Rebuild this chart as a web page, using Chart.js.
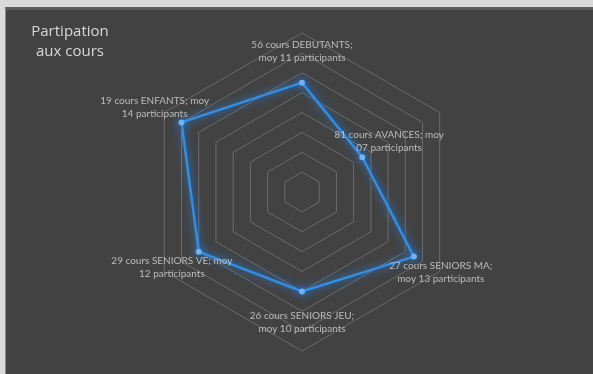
<!DOCTYPE html>
<html>
<head>
<meta charset="utf-8">
<script src="https://cdn.jsdelivr.net/npm/chart.js@4.4.1/dist/chart.umd.min.js"></script>
<style>
  html, body { margin: 0; padding: 0; }
  body { width: 593px; height: 374px; background: #d9d9d9; overflow: hidden; position: relative; }
  #panel {
    position: absolute; left: 5px; top: 7px; right: 0; bottom: 0;
    background: #424242;
    border-top: 3px solid #5c5c5c;
    border-left: 1px solid #8a8a8a;
  }
  #wrap { position: absolute; left: 0; top: 0; width: 593px; height: 374px; }
</style>
</head>
<body>
<div id="panel"></div>
<div id="wrap"><canvas id="radarChart" width="593" height="374"></canvas></div>
<script>
// Chart data
const categories = ['DEBUTANTS', 'AVANCES', 'SENIORS MA', 'SENIORS JEU', 'SENIORS VE', 'ENFANTS'];
const nbCours = ['56', '81', '27', '26', '29', '19'];
const moyParticipants = [11, 7, 13, 10, 12, 14];
// how each label is split on two lines (like Excel wraps them)
const labelLines = [
    ['56 cours DEBUTANTS;', 'moy 11 participants'],
    ['81 cours AVANCES; moy', '07 participants'],
    ['27 cours SENIORS MA;', 'moy 13 participants'],
    ['26 cours SENIORS JEU;', 'moy 10 participants'],
    ['29 cours SENIORS VE; moy', '12 participants'],
    ['19 cours ENFANTS; moy', '14 participants']
];

// Glow behind the line and points
const glowPlugin = {
    id: 'glow',
    beforeDatasetsDraw(chart) {
        chart.ctx.save();
        chart.ctx.shadowColor = 'rgba(40, 140, 255, 0.95)';
        chart.ctx.shadowBlur = 8;
    },
    afterDatasetsDraw(chart) {
        chart.ctx.restore();
    }
};

// Data labels next to each point + title
const labelsPlugin = {
    id: 'pointTexts',
    afterDraw(chart) {
        const ctx = chart.ctx;
        const scale = chart.scales.r;
        const meta = chart.getDatasetMeta(0);
        ctx.save();
        ctx.font = '10px Lato';
        ctx.fillStyle = '#bcbcbc';
        ctx.textAlign = 'center';
        ctx.textBaseline = 'middle';
        meta.data.forEach((pt, i) => {
            const dx = pt.x - scale.xCenter;
            const dy = pt.y - scale.yCenter;
            const d = Math.sqrt(dx * dx + dy * dy);
            const cx = pt.x + dx / d * 31;
            const cy = pt.y + dy / d * 31;
            ctx.fillText(labelLines[i][0], cx, cy - 6.5);
            ctx.fillText(labelLines[i][1], cx, cy + 6.5);
        });
        // title
        ctx.font = '15px "Open Sans"';
        ctx.fillStyle = '#d9d9d9';
        ctx.fillText('Partipation', 70, 32);
        ctx.fillText('aux cours', 70, 52);
        ctx.restore();
    }
};

const ctx = document.getElementById('radarChart').getContext('2d');
const radarChart = new Chart(ctx, {
    type: 'radar',
    data: {
        labels: categories,
        datasets: [{
            data: moyParticipants,
            borderColor: '#2f8fe8',
            borderWidth: 2.5,
            backgroundColor: 'transparent',
            fill: false,
            pointRadius: 3,
            pointBackgroundColor: '#6db3f5',
            pointBorderColor: '#6db3f5',
            pointBorderWidth: 0,
            tension: 0
        }]
    },
    options: {
        responsive: false,
        animation: false,
        layout: {
            padding: { left: 143, right: 131, top: 33, bottom: 22 }
        },
        scales: {
            r: {
                min: 0,
                max: 16,
                ticks: { display: false, stepSize: 2 },
                pointLabels: { display: false },
                angleLines: { display: false },
                grid: { color: '#6c6c6c', lineWidth: 1 }
            }
        },
        plugins: {
            legend: { display: false },
            tooltip: { enabled: false }
        }
    },
    plugins: [glowPlugin, labelsPlugin]
});
</script>
</body>
</html>
